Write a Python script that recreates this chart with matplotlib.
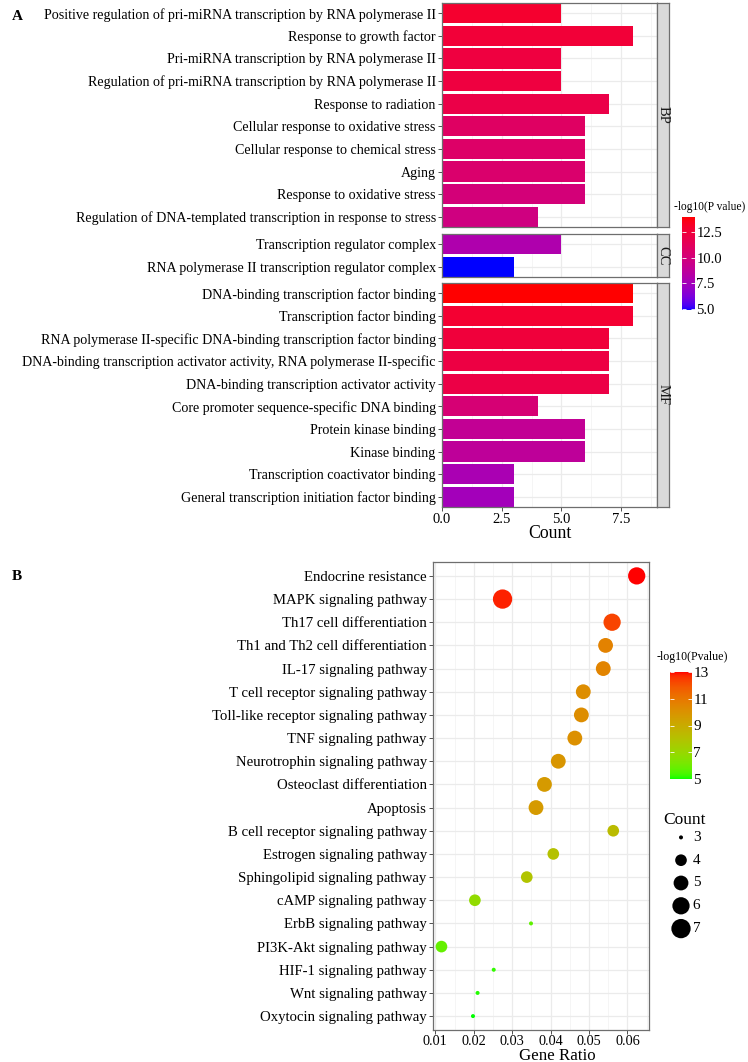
import numpy as np
import matplotlib.pyplot as plt
from matplotlib.colors import ListedColormap, Normalize
from matplotlib.cm import ScalarMappable

plt.rcParams['font.family'] = ['Liberation Serif', 'DejaVu Serif']

# ---- panel A: GO enrichment ----
bp_terms = [
    "Positive regulation of pri-miRNA transcription by RNA polymerase II",
    "Response to growth factor",
    "Pri-miRNA transcription by RNA polymerase II",
    "Regulation of pri-miRNA transcription by RNA polymerase II",
    "Response to radiation",
    "Cellular response to oxidative stress",
    "Cellular response to chemical stress",
    "Aging",
    "Response to oxidative stress",
    "Regulation of DNA-templated transcription in response to stress",
]
bp_count = [5, 8, 5, 5, 7, 6, 6, 6, 6, 4]
bp_logp = [12.9, 12.6, 12.3, 12.3, 12.0, 11.0, 10.8, 10.6, 10.1, 9.8]

cc_terms = [
    "Transcription regulator complex",
    "RNA polymerase II transcription regulator complex",
]
cc_count = [5, 3]
cc_logp = [8.0, 4.9]

mf_terms = [
    "DNA-binding transcription factor binding",
    "Transcription factor binding",
    "RNA polymerase II-specific DNA-binding transcription factor binding",
    "DNA-binding transcription activator activity, RNA polymerase II-specific",
    "DNA-binding transcription activator activity",
    "Core promoter sequence-specific DNA binding",
    "Protein kinase binding",
    "Kinase binding",
    "Transcription coactivator binding",
    "General transcription initiation factor binding",
]
mf_count = [8, 8, 7, 7, 7, 4, 6, 6, 3, 3]
mf_logp = [14.0, 12.8, 12.5, 12.2, 12.1, 10.3, 9.0, 8.8, 7.8, 7.5]

# ---- panel B: KEGG enrichment ----
kegg_terms = [
    "Endocrine resistance", "MAPK signaling pathway", "Th17 cell differentiation",
    "Th1 and Th2 cell differentiation", "IL-17 signaling pathway",
    "T cell receptor signaling pathway", "Toll-like receptor signaling pathway",
    "TNF signaling pathway", "Neurotrophin signaling pathway",
    "Osteoclast differentiation", "Apoptosis", "B cell receptor signaling pathway",
    "Estrogen signaling pathway", "Sphingolipid signaling pathway",
    "cAMP signaling pathway", "ErbB signaling pathway", "PI3K-Akt signaling pathway",
    "HIF-1 signaling pathway", "Wnt signaling pathway", "Oxytocin signaling pathway",
]
kegg_ratio = [0.0624, 0.0275, 0.0560, 0.0543, 0.0537, 0.0485, 0.0480, 0.0463,
              0.0420, 0.0384, 0.0362, 0.0563, 0.0407, 0.0338, 0.0203, 0.0349,
              0.0116, 0.0252, 0.0210, 0.0198]
kegg_count = [6, 7, 6, 5, 5, 5, 5, 5, 5, 5, 5, 4, 4, 4, 4, 3, 4, 3, 3, 3]
kegg_logp = [13.0, 12.8, 12.3, 10.6, 10.5, 10.2, 10.2, 10.1, 9.9, 9.7, 9.7,
             8.3, 8.0, 7.9, 6.8, 5.7, 5.8, 5.2, 5.1, 5.0]
count_levels = [3, 4, 5, 6, 7]
kegg_cbar_ticks = [5, 7, 9, 11, 13]
go_cbar_ticks = [5.0, 7.5, 10.0, 12.5]


# ggplot-like gradient (interpolated in Lab space)
def _to_lab(rgb):
    c = np.asarray(rgb, float)
    lin = np.where(c <= 0.04045, c / 12.92, ((c + 0.055) / 1.055) ** 2.4)
    M = np.array([[0.4124, 0.3576, 0.1805], [0.2126, 0.7152, 0.0722], [0.0193, 0.1192, 0.9505]])
    xyz = M @ lin / np.array([0.95047, 1.0, 1.08883])
    d = 6 / 29
    f = np.where(xyz > d ** 3, np.cbrt(xyz), xyz / (3 * d * d) + 4 / 29)
    return np.array([116 * f[1] - 16, 500 * (f[0] - f[1]), 200 * (f[1] - f[2])])


def _from_lab(lab):
    L, a, b = lab
    fy = (L + 16) / 116
    fx, fz = fy + a / 500, fy - b / 200
    d = 6 / 29
    finv = lambda t: t ** 3 if t > d else 3 * d * d * (t - 4 / 29)
    xyz = np.array([finv(fx), finv(fy), finv(fz)]) * np.array([0.95047, 1.0, 1.08883])
    Minv = np.linalg.inv(np.array([[0.4124, 0.3576, 0.1805], [0.2126, 0.7152, 0.0722], [0.0193, 0.1192, 0.9505]]))
    lin = np.clip(Minv @ xyz, 0, 1)
    return np.clip(np.where(lin <= 0.0031308, 12.92 * lin, 1.055 * lin ** (1 / 2.4) - 0.055), 0, 1)


def lab_cmap(low, high, n=256):
    l0, l1 = _to_lab(low), _to_lab(high)
    return ListedColormap([_from_lab(l0 + (l1 - l0) * t) for t in np.linspace(0, 1, n)])


W, H = 748, 1062
fig = plt.figure(figsize=(W / 100, H / 100), dpi=100)


def px_axes(x0, y0, x1, y1):
    return fig.add_axes([x0 / W, 1 - y1 / H, (x1 - x0) / W, (y1 - y0) / H])


BORDER = "#6e6e6e"
GRID = "#ebebeb"


def style_panel(ax):
    for s in ax.spines.values():
        s.set_color(BORDER)
        s.set_linewidth(0.9)
    ax.tick_params(axis="both", color="#333333", length=3, width=0.6, pad=1.5)
    ax.set_axisbelow(True)


# ---------- panel A ----------
go_cmap = lab_cmap((0, 0, 1), (1, 0, 0))
all_logp = bp_logp + cc_logp + mf_logp
go_norm = Normalize(min(all_logp), max(all_logp))

facets = [("BP", bp_terms, bp_count, bp_logp, 3, 227),
          ("CC", cc_terms, cc_count, cc_logp, 234, 277),
          ("MF", mf_terms, mf_count, mf_logp, 283, 507)]

for i, (name, terms, counts, logp, top, bot) in enumerate(facets):
    ax = px_axes(442, top, 657, bot)
    y = np.arange(len(terms))
    ax.barh(y, counts, height=0.9, color=go_cmap(go_norm(np.array(logp))), zorder=2)
    ax.set_ylim(len(terms) - 1 + 0.45, -0.45)
    ax.set_xlim(0, 9)
    ax.set_yticks(y)
    ax.set_yticklabels(terms, fontsize=10.1)
    ax.set_xticks([0, 2.5, 5.0, 7.5])
    ax.set_xticks([1.25, 3.75, 6.25, 8.75], minor=True)
    ax.grid(True, which="major", color=GRID, lw=0.9)
    ax.grid(True, which="minor", axis="x", color="#f4f4f4", lw=0.6)
    ax.tick_params(axis="x", which="minor", length=0)
    style_panel(ax)
    if i < 2:
        ax.tick_params(axis="x", which="both", length=0, labelbottom=False)
    else:
        ax.set_xticklabels(["0.0", "2.5", "5.0", "7.5"], fontsize=10.5)
        ax.set_xlabel("Count", fontsize=12.8, labelpad=-1)
    # facet strip
    sx = px_axes(657, top, 669, bot)
    sx.set_facecolor("#d9d9d9")
    sx.set_xticks([])
    sx.set_yticks([])
    for s in sx.spines.values():
        s.set_color(BORDER)
        s.set_linewidth(0.9)
    sx.text(0.5, 0.5, name, rotation=-90, ha="center", va="center",
            fontsize=10.5, color="#1a1a1a", transform=sx.transAxes)

fig.text(12 / W, 1 - 16 / H, "A", fontsize=11, fontweight="bold", va="center")

cax = px_axes(682, 217, 695, 310)
cb = fig.colorbar(ScalarMappable(norm=go_norm, cmap=go_cmap), cax=cax, ticks=go_cbar_ticks)
cb.outline.set_visible(False)
cax.tick_params(direction="in", color="white", length=3, width=0.6, left=True, right=True,
                labelsize=10.5, pad=1)
cax.set_yticklabels([f"{t:.1f}" for t in go_cbar_ticks])
fig.text(674 / W, 1 - 207 / H, "-log10(P value)", fontsize=8.3, va="center")

# ---------- panel B ----------
kegg_cmap = lab_cmap((0, 1, 0), (1, 0, 0))
kegg_norm = Normalize(min(kegg_logp), max(kegg_logp))


def dot_size(c):
    d_px = 4 + np.sqrt((np.asarray(c, float) - 3) / 4) * 15.3
    return (d_px * 0.72) ** 2


axb = px_axes(433, 562, 649, 1030)
yb = np.arange(len(kegg_terms))
axb.scatter(kegg_ratio, yb, s=dot_size(kegg_count), c=kegg_logp, cmap=kegg_cmap,
            norm=kegg_norm, linewidths=0, zorder=3)
axb.set_ylim(len(kegg_terms) - 1 + 0.6, -0.6)
axb.set_xlim(0.0094, 0.0656)
axb.set_yticks(yb)
axb.set_yticklabels(kegg_terms, fontsize=10.6)
axb.set_xticks([0.01, 0.02, 0.03, 0.04, 0.05, 0.06])
axb.set_xticklabels(["0.01", "0.02", "0.03", "0.04", "0.05", "0.06"], fontsize=10.3)
axb.set_xticks([0.015, 0.025, 0.035, 0.045, 0.055, 0.065], minor=True)
axb.tick_params(axis="x", which="minor", length=0)
axb.grid(True, which="major", color=GRID, lw=0.9)
axb.grid(True, which="minor", axis="x", color="#f4f4f4", lw=0.6)
style_panel(axb)
axb.tick_params(axis="x", pad=0.5)
axb.set_xlabel("Gene Ratio", fontsize=12.2, va="top")
axb.xaxis.set_label_coords((557 - 433) / 216, -17.5 / 468)

fig.text(12 / W, 1 - 577 / H, "B", fontsize=11, fontweight="bold", va="center")

cbx = px_axes(670, 672, 692, 779)
cb2 = fig.colorbar(ScalarMappable(norm=kegg_norm, cmap=kegg_cmap), cax=cbx, ticks=kegg_cbar_ticks)
cb2.outline.set_visible(False)
cbx.tick_params(direction="in", color="white", length=3, width=0.6, left=True, right=True,
                labelsize=11, pad=1)
fig.text(657 / W, 1 - 657 / H, "-log10(Pvalue)", fontsize=8.6, va="center")

# size legend
lx = px_axes(668, 826, 720, 940)
ly = np.arange(len(count_levels))
lx.scatter(np.zeros(len(count_levels)), ly, s=dot_size(count_levels), color="black", linewidths=0)
for yy, lv in zip(ly, count_levels):
    lx.text(0.9, yy, str(lv), fontsize=11, va="center", ha="left")
lx.set_xlim(-1, 3)
lx.set_ylim(len(count_levels) - 0.5, -0.5)
lx.axis("off")
fig.text(663 / W, 1 - 820 / H, "Count", fontsize=12.5, va="center")

fig.savefig("out.png", dpi=100)
